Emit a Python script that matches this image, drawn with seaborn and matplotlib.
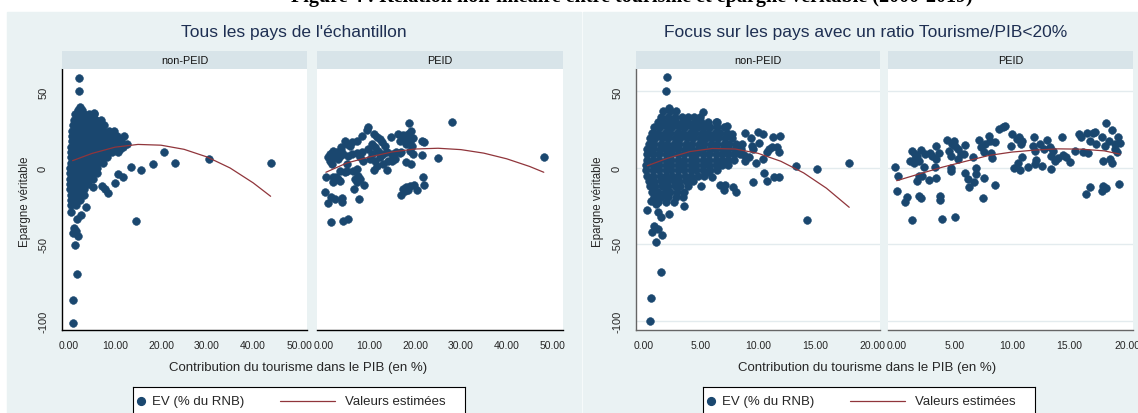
import numpy as np
import seaborn as sns
import matplotlib.pyplot as plt
from matplotlib.patches import Rectangle

W, H = 1138, 414

# ---- data ----
# panel 1, non-PEID : dense cloud given row by row (y level, x values)
np_all_rows_y = [38.0, 35.0, 31.5, 28.0, 24.5, 21.0, 17.5, 14.0, 10.5, 7.0,
                 3.5, 0.0, -3.5, -7.0, -10.5, -14.0, -17.5, -21.0, -24.5]
np_all_rows_x = [
    [2.0, 2.9],
    [1.4, 2.4, 3.3, 4.4, 5.4],
    [1.0, 1.9, 2.9, 3.9, 4.8, 5.8, 6.9],
    [0.8, 1.8, 2.7, 3.7, 4.7, 5.6, 6.6, 7.6],
    [0.7, 1.6, 2.6, 3.6, 4.6, 5.5, 6.5, 7.5, 8.6, 9.8],
    [0.6, 1.5, 2.5, 3.5, 4.5, 5.4, 6.4, 7.4, 8.4, 9.4, 10.4, 12.0],
    [0.6, 1.5, 2.4, 3.4, 4.4, 5.4, 6.4, 7.3, 8.3, 9.3, 10.3, 11.3],
    [0.5, 1.4, 2.4, 3.4, 4.3, 5.3, 6.3, 7.3, 8.2, 9.2, 10.4, 11.8],
    [0.5, 1.4, 2.3, 3.3, 4.3, 5.3, 6.3, 7.2, 8.2, 9.4, 10.7],
    [0.4, 1.3, 2.3, 3.3, 4.2, 5.2, 6.2, 7.2, 8.3],
    [0.4, 1.3, 2.2, 3.2, 4.2, 5.2, 6.2, 7.3],
    [0.3, 1.2, 2.2, 3.2, 4.1, 5.1, 6.2],
    [0.3, 1.2, 2.1, 3.1, 4.1, 5.0, 6.0],
    [0.3, 1.2, 2.1, 3.1, 4.0, 5.2],
    [0.3, 1.2, 2.1, 3.0, 4.1],
    [0.3, 1.2, 2.1, 3.2],
    [0.4, 1.3, 2.2, 3.3],
    [0.4, 1.3, 2.3],
    [0.5, 1.6],
]
np_all_x = [2.2, 2.2, 2.5, 5.5, 20.6, 18.3, 23.0, 30.5, 43.8, 13.5, 15.6, 14.6,
            1.3, 1.8, 0.9, 0.8, 1.2, 0.8, 1.9, 1.5, 0.4, 1.7, 2.6, 3.8,
            10.7, 11.8, 10.0, 7.1, 7.8, 8.4, 5.3, 12.6, 11.0]
np_all_y = [59.0, 50.5, 39.6, 36.0, 10.5, 2.6, 3.0, 5.9, 3.3, 0.4, -1.3, -34.8,
            -50.5, -69.0, -86.0, -101.5, -39.0, -42.7, -44.6, -41.0, -28.5, -33.3, -31.0, -25.5,
            -3.9, -6.1, -9.8, -11.6, -13.7, -16.5, -12.2, 16.0, 12.5]

# panel 1, PEID
peid_all_x = [28.1, 48.1, 25.0, 18.6, 19.1, 21.6, 21.8, 22.0, 20.3, 16.8, 7.8, 1.6, 4.2, 5.4,
              0.3, 1.0, 1.5, 2.4, 4.1, 4.1, 0.5,
              17.3, 18.1, 18.9, 19.7, 17.8, 18.5,
              2.1, 2.1, 3.2, 3.6, 2.7,
              5.0, 6.5, 7.2, 6.9, 7.2, 7.9, 6.6, 8.8, 7.6,
              9.8, 9.4, 8.3, 7.2, 4.7, 3.9, 5.0, 5.8, 6.1,
              2.1, 2.85, 1.4, 2.5, 1.4, 3.6, 4.3, 5.4, 6.1, 7.2, 7.9, 8.7, 1.8, 3.2, 1.0, 3.9,
              8.3, 5.0, 3.6, 4.7,
              10.9, 11.6, 12.3, 10.5, 11.2, 12.7, 13.4, 11.9, 13.8, 14.9, 15.9, 16.7, 15.6,
              14.1, 13.0, 11.6, 10.9, 13.8, 14.9, 15.2, 10.1, 11.2, 12.3, 13.0, 10.5, 9.8,
              14.7, 16.3, 17.3, 17.8, 16.7, 18.1, 18.9, 19.6, 21.4, 21.9, 19.2, 18.9, 19.6,
              18.1, 19.1, 17.0, 17.4, 18.5]
peid_all_y = [29.8, 7.4, 6.3, 29.2, 24.4, 8.7, -6.1, -11.3, -14.4, -17.6, -20.5, -35.1, -34.4, -33.1,
              -15.9, -23.1, -19.0, -20.0, -19.7, -22.3, -5.7,
              -13.7, -12.6, -11.7, -10.9, -15.2, -14.4,
              -6.1, -9.3, -7.2, -8.3, -5.6,
              -1.7, -1.7, -0.6, -7.2, -9.3, -7.2, -13.5, -11.3, -5.0,
              26.6, 24.9, 21.2, 17.9, 17.9, 14.0, 15.7, 14.6, 16.8,
              10.9, 10.3, 9.2, 7.0, 4.8, 8.1, 9.2, 8.1, 9.2, 9.6, 7.0, 4.8, 2.6, 5.9, 7.4, 11.8,
              10.3, 2.6, -1.7, -2.8,
              22.2, 20.1, 19.0, 15.7, 13.5, 16.8, 14.6, 11.4, 10.3, 9.2, 10.3, 9.6, 5.9,
              4.8, 2.6, 1.5, -1.3, -1.3, 4.8, 7.0, 5.9, 4.8, 7.0, 9.2, 9.2, 12.4,
              20.5, 22.2, 21.8, 20.1, 17.9, 15.7, 17.9, 19.6, 17.9, 16.8, 14.6, 11.4, 9.2,
              3.7, 2.6, 10.3, 20.1, 22.2]

# panel 2 (ratio < 20%), non-PEID
np_foc_rows_y = [37.0, 33.5, 30.0, 26.5, 23.0, 19.5, 16.0, 12.5, 9.0, 5.5,
                 2.0, -1.5, -5.0, -8.5, -12.0, -15.5, -19.0, -22.0]
np_foc_rows_x = [
    [1.7, 2.3, 2.8],
    [1.5, 2.1, 2.7, 3.3, 3.9, 4.4, 4.9],
    [1.2, 1.7, 2.3, 2.8, 3.4, 3.9, 4.5, 5.0, 5.6, 6.3],
    [0.9, 1.4, 2.0, 2.5, 3.1, 3.6, 4.2, 4.7, 5.3, 5.8, 6.4, 7.0],
    [0.7, 1.2, 1.8, 2.3, 2.9, 3.4, 4.0, 4.5, 5.1, 5.6, 6.2, 6.7, 7.3],
    [0.5, 1.0, 1.6, 2.1, 2.7, 3.2, 3.8, 4.3, 4.9, 5.4, 6.0, 6.5, 7.1, 7.7],
    [0.4, 0.9, 1.5, 2.0, 2.6, 3.1, 3.7, 4.2, 4.8, 5.3, 5.9, 6.4, 7.0, 7.5, 8.1],
    [0.3, 0.8, 1.4, 1.9, 2.5, 3.0, 3.6, 4.1, 4.7, 5.2, 5.8, 6.3, 6.9, 7.4, 8.0, 8.5],
    [0.3, 0.8, 1.3, 1.9, 2.4, 3.0, 3.5, 4.1, 4.6, 5.2, 5.7, 6.3, 6.8, 7.4, 7.9, 8.4],
    [0.3, 0.8, 1.3, 1.9, 2.4, 3.0, 3.5, 4.1, 4.6, 5.2, 5.7, 6.3, 6.8, 7.4, 7.9],
    [0.2, 0.8, 1.3, 1.9, 2.4, 3.0, 3.5, 4.1, 4.6, 5.2, 5.7, 6.3, 6.8, 7.4],
    [0.2, 0.8, 1.3, 1.9, 2.4, 3.0, 3.5, 4.1, 4.6, 5.2, 5.8, 6.4],
    [0.3, 0.8, 1.4, 1.9, 2.5, 3.0, 3.6, 4.1, 4.7, 5.3],
    [0.4, 0.9, 1.5, 2.0, 2.6, 3.1, 3.7, 4.3],
    [0.5, 1.0, 1.6, 2.1, 2.7, 3.2, 3.9],
    [0.7, 1.2, 1.8, 2.3, 2.9, 3.5],
    [0.9, 1.5, 2.1, 2.8, 3.4],
    [1.2, 1.9, 2.6],
]
np_foc_x = [2.0, 1.9, 2.2, 5.2, 6.4, 7.3, 7.7, 8.9, 9.4, 10.0, 10.4, 11.3, 11.9,
            8.6, 9.5, 10.1, 9.55, 11.0, 10.8, 11.2, 11.7, 11.8, 8.9, 9.8, 10.4,
            13.3, 15.2, 18.0, 10.5, 11.4, 11.8, 10.8, 9.6, 8.1, 7.8, 7.0, 6.7, 7.1,
            5.0, 6.0, 5.6, 3.5, 14.3, 0.3, 0.6, 1.05, 1.2, 1.5, 0.9, 1.2, 0.7, 1.6,
            1.05, 1.5, 0.6, 0.5, 2.2, 8.8, 9.2]
np_foc_y = [59.3, 50.6, 39.2, 36.4, 29.9, 27.7, 22.2, 22.7, 19.6, 23.3, 22.2, 20.1, 20.9,
            15.7, 14.6, 16.1, 12.4, 12.4, 10.3, 13.5, 13.5, 10.3, 4.8, 3.1, 5.9,
            1.1, -0.6, 3.1, -3.5, -6.1, -5.6, -8.7, -9.3, -15.7, -12.2, -14.4, -10.9, -10.9,
            -11.5, -6.1, -2.8, -24.6, -33.7, -27.2, -21.3, -23.5, -29.0, -31.8, -37.7, -39.8, -41.6, -43.5,
            -48.6, -68.0, -85.0, -100.3, -30.1, 8.5, 7.0]

# panel 2, PEID
peid_foc_x = [-0.1, 0.1, 0.0, 0.9, 0.7, 1.3, 3.9, 5.1, 1.9, 2.1, 3.8, 3.8, 7.5, 8.5,
              6.3, 6.7, 6.2, 6.9, 6.9, 5.9, 7.6, 2.8, 3.4, 1.8, 1.9, 2.2, 2.4, 3.3, 4.7, 4.7,
              1.2, 1.5, 1.6, 1.9, 1.3, 1.6, 1.8, 2.1, 2.5, 2.9, 3.1, 3.4, 3.4, 3.7,
              4.4, 4.5, 4.7, 4.8, 5.0, 5.1, 5.3, 5.3, 5.55, 5.8, 5.9, 6.6,
              7.1, 7.3, 7.6, 7.7, 8.0, 8.1, 8.3, 8.5, 8.2, 8.9, 9.2, 9.4,
              10.0, 9.9, 10.4, 10.6, 10.8, 10.9, 10.9, 10.2, 10.5, 10.7, 11.4, 11.9, 11.8,
              12.0, 12.1, 12.0, 12.4, 12.6, 12.8, 13.0, 13.3, 13.4, 13.4, 13.6, 13.7, 14.0,
              14.3, 14.4, 14.7, 15.0, 15.45,
              15.8, 16.0, 16.2, 16.5, 16.6, 16.8, 17.0, 17.2, 17.3, 17.8, 17.9, 18.1, 18.2,
              18.4, 18.5, 18.7, 18.7, 18.9, 19.1, 19.2, 19.4, 18.9,
              16.4, 16.8, 17.8, 17.9, 18.2, 19.3]
peid_foc_y = [0.9, -5.0, -15.2, -18.7, -22.0, -34.0, -33.5, -32.2, -18.1, -19.6, -18.5, -20.9, -19.8, -10.9,
              -12.6, -9.3, -7.2, -3.9, 0.0, -3.2, -6.5, -7.8, -6.5, -8.3, -5.0, -5.0, 0.9, 0.5, -1.7, -0.2,
              4.8, 3.1, 5.9, 4.8, 10.9, 9.2, 8.1, 11.8, 9.2, 9.6, 8.1, 5.9, 14.6, 9.6,
              18.3, 11.4, 8.1, 15.7, 17.9, 14.6, 12.4, 5.9, 9.2, 9.2, 15.3, 7.0,
              18.3, 14.0, 10.3, 15.7, 21.2, 17.5, 6.6, 16.8, 9.6, 25.5, 26.6, 27.3,
              22.2, 14.6, 19.0, 20.5, 15.7, 17.9, 7.4, 0.0, 3.1, -1.3, 0.5, 20.1, 14.6,
              10.9, 5.3, 2.6, 15.7, 1.6, 12.4, 18.3, 13.5, 8.1, -0.8, 10.9, 4.8, 6.6,
              20.5, 8.7, 7.0, 4.0, 10.9,
              22.2, 20.1, 10.3, 22.7, 9.6, 17.5, 22.7, 23.3, 15.7, 20.1, 4.4, 14.6, 29.7,
              17.9, 5.9, 24.9, 3.1, 15.7, 10.3, 20.5, 16.6, 12.4,
              -17.0, -12.6, -14.8, -11.5, -13.0, -10.4]

# fitted values (quadratic fit)
fit_np_all_x = [0.8, 5, 10, 15, 20, 25, 30, 35, 40, 43.8]
fit_np_all_y = [4.8, 9.5, 13.6, 15.4, 14.9, 12.2, 7.2, 0.0, -9.7, -18.5]
fit_peid_all_x = [0.5, 5, 10, 15, 20, 25, 30, 35, 40, 45, 48.1]
fit_peid_all_y = [-2.8, 3.2, 7.2, 10.5, 12.4, 12.9, 12.0, 9.7, 6.0, 1.0, -2.8]
fit_np_foc_x = [0.3, 2, 4, 6, 8, 10, 12, 14, 16, 18]
fit_np_foc_y = [1.5, 6.2, 10.7, 12.75, 12.4, 9.6, 4.4, -3.2, -13.2, -25.7]
fit_peid_foc_x = [0.0, 2, 4, 6, 8, 10, 12, 14, 16, 18, 19.4]
fit_peid_foc_y = [-8.3, -3.8, 0.6, 4.4, 8.2, 10.4, 11.7, 12.5, 12.3, 11.2, 9.0]

ticks_all = [0, 10, 20, 30, 40, 50]
ticks_foc = [0, 5, 10, 15, 20]
yticks = [-100, -50, 0, 50]

# ---- style ----
sns.set_style("white")
plt.rcParams["font.family"] = ["Liberation Sans", "DejaVu Sans"]
plt.rcParams["axes.unicode_minus"] = False

NAVY = "#1a476f"
MAROON = "#90353b"
BG = "#eaf2f3"
STRIP = "#d8e4e9"
TITLE_COL = "#1e2f52"


def rect(x0, y0, x1, y1):
    return [x0 / W, 1 - y1 / H, (x1 - x0) / W, (y1 - y0) / H]


def expand(rows_y, rows_x, xs, ys):
    px, py = list(xs), list(ys)
    for yy, row in zip(rows_y, rows_x):
        px += row
        py += [yy] * len(row)
    return px, py


fig = plt.figure(figsize=(W / 100, H / 100), dpi=100)
fig.patches.append(Rectangle((7 / W, 0), (581 - 7) / W, 1 - 13 / H,
                             transform=fig.transFigure, color=BG, zorder=-5))
fig.patches.append(Rectangle((583 / W, 0), (W - 583) / W, 1 - 13 / H,
                             transform=fig.transFigure, color=BG, zorder=-5))

fig.text(632 / W, 1 - 2 / H, "Figure 4 : Relation non-linéaire entre tourisme et épargne véritable (2000-2019)",
         ha="center", va="baseline", fontsize=14.5, fontweight="bold",
         family="Liberation Serif", color="black")


def facet(x0, x1, label, xs, ys, fx, fy, xlim, xticks, first, grid, spine_col):
    ax = fig.add_axes(rect(x0, 70, x1, 331))
    ax.set_facecolor("white")
    if grid:
        for t in yticks:
            ax.axhline(t, color="#e3ebee", lw=1.0, zorder=1)
    sns.scatterplot(x=xs, y=ys, ax=ax, color=NAVY, s=31, edgecolor=NAVY,
                    linewidth=0.4, zorder=3, legend=False)
    sns.lineplot(x=fx, y=fy, ax=ax, color=MAROON, linewidth=0.9, zorder=4,
                 legend=False, estimator=None, sort=False)
    ax.set_xlim(*xlim)
    ax.set_ylim(-105.9, 64.7)
    ax.set_xticks(xticks)
    ax.set_xticklabels([f"{t:.2f}" for t in xticks])
    ax.set_xlabel("")
    ax.set_ylabel("")
    for s in ["top", "right"]:
        ax.spines[s].set_visible(False)
    ax.spines["bottom"].set_color(spine_col)
    ax.spines["bottom"].set_linewidth(1.0)
    ax.tick_params(axis="x", length=4, width=0.8, labelsize=7.5, pad=3,
                   color=spine_col, direction="out")
    if first:
        ax.spines["left"].set_color(spine_col)
        ax.spines["left"].set_linewidth(1.0)
        ax.set_yticks(yticks)
        ax.tick_params(axis="y", length=4, width=0.8, labelsize=8, pad=6,
                       color=spine_col, direction="out")
        for lbl in ax.get_yticklabels():
            lbl.set_rotation(90)
            lbl.set_va("center")
            lbl.set_ha("right")
    else:
        ax.spines["left"].set_visible(False)
        ax.set_yticks(yticks)
        ax.tick_params(axis="y", length=0, labelleft=False)

    st = fig.add_axes(rect(x0, 52, x1, 70))
    st.set_facecolor(STRIP)
    st.set_xticks([])
    st.set_yticks([])
    for s in st.spines.values():
        s.set_visible(False)
    st.text(0.5, 0.5, label, ha="center", va="center", fontsize=7.8,
            transform=st.transAxes, color="#111111")
    return ax


def legend_box(x0, x1):
    lg = fig.add_axes(rect(x0, 388, x1, 420))
    lg.set_facecolor("white")
    lg.set_xlim(0, 1)
    lg.set_ylim(0, 1)
    lg.set_xticks([])
    lg.set_yticks([])
    for s in lg.spines.values():
        s.set_color("black")
        s.set_linewidth(0.8)
    lg.plot([0.025], [0.56], "o", color=NAVY, ms=5.6)
    lg.text(0.058, 0.56, "EV (% du RNB)", va="center", fontsize=9.5)
    lg.plot([0.443, 0.608], [0.56, 0.56], color=MAROON, lw=0.9)
    lg.text(0.638, 0.56, "Valeurs estimées", va="center", fontsize=9.5)


# ---- panel 1 : all countries ----
x1, y1 = expand(np_all_rows_y, np_all_rows_x, np_all_x, np_all_y)
facet(62, 307, "non-PEID", x1, y1, fit_np_all_x, fit_np_all_y,
      (-1.5, 51.7), ticks_all, True, False, "black")
facet(317, 563, "PEID", peid_all_x, peid_all_y, fit_peid_all_x, fit_peid_all_y,
      (-1.45, 52.3), ticks_all, False, False, "black")
fig.text(294 / W, 1 - 33 / H, "Tous les pays de l'échantillon", ha="center", va="center",
         fontsize=12.5, color=TITLE_COL)
fig.text(25 / W, 1 - 202 / H, "Epargne véritable", rotation=90, ha="center", va="center",
         fontsize=8.3)
fig.text(298 / W, 1 - 368 / H, "Contribution du tourisme dans le PIB (en %)",
         ha="center", va="center", fontsize=9.5)
legend_box(133, 465)

# ---- panel 2 : tourism/GDP < 20% ----
x2, y2 = expand(np_foc_rows_y, np_foc_rows_x, np_foc_x, np_foc_y)
facet(636, 880, "non-PEID", x2, y2, fit_np_foc_x, fit_np_foc_y,
      (-0.7, 20.7), ticks_foc, True, True, "#666666")
facet(888, 1133, "PEID", peid_foc_x, peid_foc_y, fit_peid_foc_x, fit_peid_foc_y,
      (-0.75, 20.5), ticks_foc, False, True, "#666666")
fig.text(866 / W, 1 - 33 / H, "Focus sur les pays avec un ratio Tourisme/PIB<20%",
         ha="center", va="center", fontsize=12.5, color=TITLE_COL)
fig.text(598 / W, 1 - 202 / H, "Epargne véritable", rotation=90, ha="center", va="center",
         fontsize=8.3)
fig.text(867 / W, 1 - 368 / H, "Contribution du tourisme dans le PIB (en %)",
         ha="center", va="center", fontsize=9.5)
legend_box(703, 1035)

fig.savefig("out.png", dpi=100)
